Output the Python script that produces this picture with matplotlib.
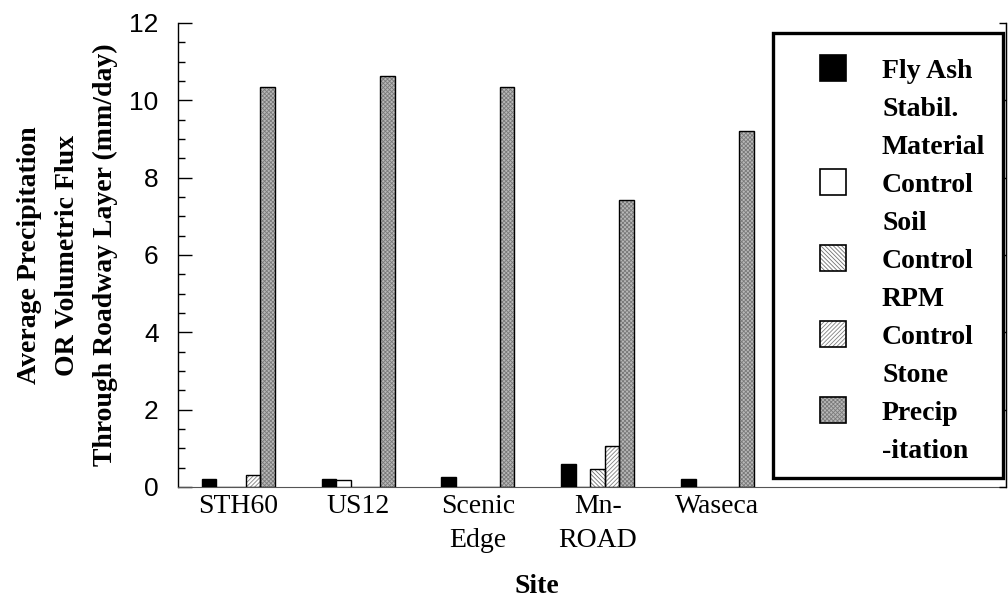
import matplotlib
matplotlib.use("Agg")
import matplotlib.pyplot as plt
import numpy as np
from matplotlib.patches import Rectangle

sites = ["STH60", "US12", "Scenic\nEdge", "Mn-\nROAD", "Waseca"]
series_names = ["Fly Ash\nStabil.\nMaterial", "Control\nSoil", "Control\nRPM",
                "Control\nStone", "Precip\n-itation"]
fly_ash = [0.20, 0.20, 0.27, 0.59, 0.21]
ctrl_soil = [0.0, 0.18, 0.0, 0.0, 0.0]
ctrl_rpm = [0.0, 0.0, 0.0, 0.47, 0.0]
ctrl_stone = [0.31, 0.0, 0.0, 1.06, 0.0]
precip = [10.34, 10.64, 10.34, 7.42, 9.21]
yticks = [0, 2, 4, 6, 8, 10, 12]

series = [fly_ash, ctrl_soil, ctrl_rpm, ctrl_stone, precip]
styles = [
    dict(face="black", hatch=None, hcol="black"),
    dict(face="white", hatch=None, hcol="black"),
    dict(face="white", hatch="\\\\\\\\\\\\\\\\", hcol="#707070"),
    dict(face="white", hatch="////////", hcol="#808080"),
    dict(face="#b8b8b8", hatch="xxxxxxxx", hcol="#7a7a7a"),
]

plt.rcParams["hatch.linewidth"] = 0.6
serif = ["Liberation Serif", "DejaVu Serif"]
sans = ["Liberation Sans", "DejaVu Sans"]

W, H = 1008, 599
fig = plt.figure(figsize=(W / 100, H / 100), dpi=100)
ax = fig.add_axes([178 / W, 1 - 487 / H, (1006 - 178) / W, (487 - 23) / H])

x = np.arange(len(sites))
bw = 0.1217
for i, (vals, st) in enumerate(zip(series, styles)):
    pos = x + (i - 2) * bw
    if st["hatch"]:
        ax.bar(pos, vals, bw, color=st["face"], edgecolor=st["hcol"],
               hatch=st["hatch"], linewidth=0, zorder=2)
        ax.bar(pos, vals, bw, fill=False, edgecolor="black", linewidth=1.0, zorder=3)
    else:
        ax.bar(pos, vals, bw, color=st["face"], edgecolor="black",
               linewidth=1.0, zorder=3)

ax.set_xlim(-0.504, 6.41)
ax.set_ylim(0, 12)
ax.set_yticks(yticks)
ax.set_yticks(np.arange(0, 12.01, 0.5), minor=True)
ax.set_yticklabels([str(v) for v in yticks], family=sans, fontsize=19)
ax.tick_params(axis="y", which="major", direction="in", length=10, width=1, pad=14,
               left=True, right=False)
ax.tick_params(axis="y", which="minor", direction="in", length=5, width=1,
               left=True, right=False)
ax.set_xticks(x)
ax.set_xticklabels(sites, family=serif, fontsize=20, linespacing=1.5)
ax.tick_params(axis="x", length=0, pad=5)

ax.spines["top"].set_visible(False)
ax.spines["bottom"].set_color("#555555")
ax.spines["left"].set_linewidth(1.0)
ax.spines["right"].set_linewidth(1.0)

ax2 = ax.twinx()
ax2.set_ylim(0, 12)
ax2.set_yticks(yticks)
ax2.tick_params(axis="y", direction="in", length=5, width=1, labelright=False)
for s in ["top", "left", "bottom"]:
    ax2.spines[s].set_visible(False)

ax.set_ylabel("Average Precipitation\nOR Volumetric Flux\nThrough Roadway Layer (mm/day)",
              family=serif, fontsize=20, fontweight="bold", linespacing=1.68)
ax.yaxis.set_label_coords(-0.072, 0.5)
ax.set_xlabel("Site", family=serif, fontsize=20, fontweight="bold")
ax.xaxis.set_label_coords(0.433, -0.188)

# legend box (manual, in figure pixels)
def fx(px):
    return px / W

def fy(py):
    return 1 - py / H

fig.patches.append(Rectangle((fx(773), fy(478)), fx(1003) - fx(773), (478 - 33) / H,
                             transform=fig.transFigure, fill=True, facecolor="white",
                             edgecolor="black", linewidth=2.4, zorder=5))
line = 0
for name, st in zip(series_names, styles):
    yc = 68 + 38 * line
    face = st["face"]
    if st["hatch"]:
        fig.patches.append(Rectangle((fx(820), fy(yc + 13)), 26 / W, 26 / H,
                                     transform=fig.transFigure, facecolor=face,
                                     edgecolor=st["hcol"], hatch=st["hatch"],
                                     linewidth=0, zorder=6))
        fig.patches.append(Rectangle((fx(820), fy(yc + 13)), 26 / W, 26 / H,
                                     transform=fig.transFigure, fill=False,
                                     edgecolor="black", linewidth=1.2, zorder=7))
    else:
        fig.patches.append(Rectangle((fx(820), fy(yc + 13)), 26 / W, 26 / H,
                                     transform=fig.transFigure, facecolor=face,
                                     edgecolor="black", linewidth=1.2, zorder=6))
    for ln in name.split("\n"):
        fig.text(fx(882), fy(68 + 38 * line), ln, family=serif, fontsize=20,
                 fontweight="bold", va="center_baseline", ha="left", zorder=8)
        line += 1

fig.savefig("out.png", dpi=100)
